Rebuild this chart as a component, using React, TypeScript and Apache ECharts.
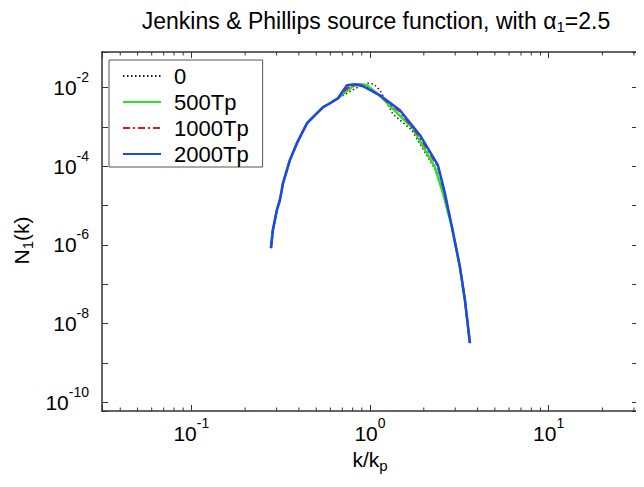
import React, { useEffect, useRef } from 'react';
import * as echarts from 'echarts';

const FONT = 'Liberation Sans, Arial, sans-serif';

const seriesNames = ['0', '500Tp', '1000Tp', '2000Tp'];

// shared rising branch (k/kp, N1)
const leftBranch: [number, number][] = [
  [0.279, 8.3e-7], [0.286, 2.37e-6], [0.301, 7.6e-6], [0.313, 1.37e-5],
  [0.326, 3.7e-5], [0.356, 1.42e-4], [0.39, 3.83e-4], [0.444, 1.23e-3],
  [0.505, 2.21e-3], [0.545, 3.13e-3], [0.597, 3.96e-3], [0.662, 5.3e-3],
];

// shared steep tail
const tail: [number, number][] = [
  [2.875, 2.83e-6], [3.187, 2.73e-7], [3.398, 3.96e-8], [3.625, 3.2e-9],
];

const mid0: [number, number][] = [
  [0.724, 6.7e-3], [0.793, 8.5e-3], [0.879, 1.07e-2], [0.975, 1.28e-2],
  [1.052, 1.2e-2], [1.137, 8.5e-3], [1.343, 2.1e-3], [1.718, 8.1e-4],
  [2.307, 8.5e-5], [2.626, 1.8e-5],
];

const mid500: [number, number][] = [
  [0.724, 7.5e-3], [0.802, 1.07e-2], [0.879, 1.2e-2], [0.962, 1.13e-2],
  [1.137, 6.1e-3], [1.294, 3.4e-3], [1.739, 9.0e-4], [2.307, 9.5e-5],
  [2.559, 2.1e-5],
];

const mid1000: [number, number][] = [
  [0.724, 8.5e-3], [0.773, 1.07e-2], [0.845, 1.2e-2], [0.938, 1.07e-2],
  [1.137, 6.1e-3], [1.471, 2.4e-3], [1.905, 5.4e-4], [2.399, 9.5e-5],
  [2.626, 1.9e-5],
];

const mid2000: [number, number][] = [
  [0.679, 6.3e-3], [0.743, 1.13e-2], [0.824, 1.2e-2], [0.914, 1.07e-2],
  [1.137, 6.3e-3], [1.471, 2.63e-3], [1.905, 6.1e-4], [2.399, 1.06e-4],
  [2.626, 2.06e-5],
];

const xMin = 0.0316228;
const xMax = 31.6228;
const yMin = 6.0e-11;
const yMax = 0.0794;

const xMinorTicks = [
  0.04, 0.05, 0.06, 0.07, 0.08, 0.09,
  0.2, 0.3, 0.4, 0.5, 0.6, 0.7, 0.8, 0.9,
  2, 3, 4, 5, 6, 7, 8, 9,
  20, 30,
];

const AXIS_COLOR = '#333';

// superscript: both tokens have the same total height (28), padding places the glyphs
const powRich = {
  b: { fontSize: 21, lineHeight: 21, padding: [7, 0, 0, 0], fontFamily: FONT, color: '#000', fontWeight: 'normal' },
  s: { fontSize: 14, lineHeight: 14, padding: [0, 0, 14, 0], fontFamily: FONT, color: '#000', fontWeight: 'normal' },
};

const powFormatter = (evenOnly: boolean) => (v: number) => {
  const e = Math.log10(v);
  const r = Math.round(e);
  if (Math.abs(e - r) > 1e-6) return '';
  if (evenOnly && r % 2 !== 0) return '';
  return `{b|10}{s|${r}}`;
};

// subscript: both tokens total height 25
const subRich = (size: number) => ({
  b: { fontSize: size, lineHeight: 23, padding: [0, 0, 2, 0], fontFamily: FONT, color: '#000', fontWeight: 'normal' },
  sub: { fontSize: 15, lineHeight: 15, padding: [10, 0, 0, 0], fontFamily: FONT, color: '#000', fontWeight: 'normal' },
});

export default function App() {
  const ref = useRef<HTMLDivElement>(null);
  useEffect(() => {
    if (!ref.current) return;
    const chart = echarts.init(ref.current, undefined, { renderer: 'svg' });
    const axisBase = {
      type: 'log',
      logBase: 10,
      axisLine: { show: true, onZero: false, lineStyle: { color: AXIS_COLOR, width: 1.5 } },
      axisTick: { show: true, inside: true, length: 6, lineStyle: { color: AXIS_COLOR, width: 1 } },
      splitLine: { show: false },
      minorTick: { show: false },
    };
    const lineSeries = (name: string, data: [number, number][], color: string, width: number, type: any, z: number) => ({
      name,
      type: 'line',
      data,
      symbol: 'none',
      xAxisIndex: 0,
      yAxisIndex: 0,
      z,
      lineStyle: { color, width, type },
      itemStyle: { color },
    });
    chart.setOption({
      animation: false,
      backgroundColor: '#fff',
      title: {
        text: '{b|Jenkins & Phillips source function, with α}{sub|1}{b|=2.5}',
        left: 371,
        top: 5,
        textAlign: 'center',
        textStyle: { fontWeight: 'normal', fontFamily: FONT, fontSize: 23, rich: subRich(23) },
      },
      grid: { left: 102, right: 6, top: 52, bottom: 76, containLabel: false },
      legend: {
        data: seriesNames,
        orient: 'vertical',
        left: 109,
        top: 60,
        itemWidth: 38,
        itemHeight: 14,
        itemGap: 4,
        padding: [5, 14, 2, 13],
        borderColor: '#555',
        borderWidth: 1,
        backgroundColor: '#fff',
        selectedMode: false,
        itemStyle: { opacity: 0 },
        textStyle: { fontSize: 22, fontFamily: FONT, color: '#000', lineHeight: 20, padding: [0, 0, 0, 8] },
      },
      xAxis: [
        {
          ...axisBase,
          position: 'bottom',
          min: xMin,
          max: xMax,
          name: '{b|k/k}{sub|p}',
          nameLocation: 'middle',
          nameGap: 37,
          nameTextStyle: { fontSize: 21, fontFamily: FONT, rich: subRich(21) },
          axisLabel: { formatter: powFormatter(false), rich: powRich, fontSize: 21, fontFamily: FONT, margin: 8 },
        },
        {
          ...axisBase,
          position: 'top',
          min: xMin,
          max: xMax,
          axisLabel: { show: false },
        },
      ],
      yAxis: [
        {
          ...axisBase,
          position: 'left',
          min: yMin,
          max: yMax,
          name: '{b|N}{sub|1}{b|(k)}',
          nameLocation: 'middle',
          nameGap: 62,
          nameTextStyle: { fontSize: 21, fontFamily: FONT, rich: subRich(21), padding: [0, 18, 0, 0] },
          axisLabel: { formatter: powFormatter(true), rich: powRich, fontSize: 21, fontFamily: FONT, margin: 13, padding: [0, 0, 7, 0] },
        },
        {
          ...axisBase,
          position: 'right',
          min: yMin,
          max: yMax,
          axisLabel: { show: false },
        },
      ],
      series: [
        lineSeries('0', [...leftBranch, ...mid0, ...tail], '#222', 1.5, [1.5, 2.5], 2),
        lineSeries('500Tp', [...leftBranch, ...mid500, ...tail], '#22e622', 2.5, 'solid', 3),
        lineSeries('1000Tp', [...leftBranch, ...mid1000, ...tail], '#e61919', 2, [7, 3, 2, 3], 4),
        lineSeries('2000Tp', [...leftBranch, ...mid2000, ...tail], '#1e46f0', 2.5, 'solid', 5),
        {
          type: 'custom',
          coordinateSystem: 'cartesian2d',
          xAxisIndex: 0,
          yAxisIndex: 0,
          silent: true,
          z: 6,
          data: xMinorTicks.map((v) => [v, 1e-5]),
          renderItem: (params: any, api: any) => {
            const x = api.coord([api.value(0), api.value(1)])[0];
            const cs = params.coordSys;
            const st = { stroke: AXIS_COLOR, lineWidth: 1 };
            return {
              type: 'group',
              children: [
                { type: 'line', shape: { x1: x, y1: cs.y + cs.height, x2: x, y2: cs.y + cs.height - 3.5 }, style: st },
                { type: 'line', shape: { x1: x, y1: cs.y, x2: x, y2: cs.y + 3.5 }, style: st },
              ],
            };
          },
        },
      ],
    });
    return () => chart.dispose();
  }, []);
  return <div ref={ref} style={{ width: 644, height: 487, margin: '-8px' }} />;
}
